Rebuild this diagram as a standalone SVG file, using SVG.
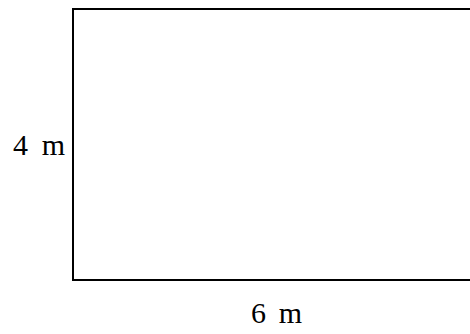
<svg xmlns="http://www.w3.org/2000/svg" width="470" height="334" viewBox="0 0 470 334">
<style>
.lbl{font-family:"Liberation Serif","DejaVu Serif",serif;font-size:30px;fill:#000}
.edge{fill:none;stroke:#000;stroke-width:2}
</style>
<rect width="470" height="334" fill="#fff"/>
<g id="rectangle">
<rect class="edge" x="73" y="9" width="420" height="271"/>
</g>
<g id="labels">
<text class="lbl" x="13" y="155" textLength="52" lengthAdjust="spacing">4 m</text>
<text class="lbl" x="251" y="323" textLength="51" lengthAdjust="spacing">6 m</text>
</g>
</svg>
